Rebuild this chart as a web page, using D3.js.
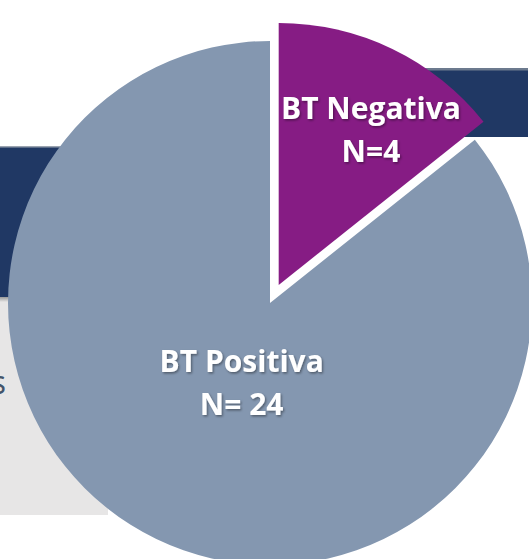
<!DOCTYPE html>
<html>
<head>
<meta charset="utf-8">
<script src="https://cdn.jsdelivr.net/npm/d3@7"></script>
<style>
    html, body { margin: 0; padding: 0; background: #fff; }
    svg { display: block; }
    .lbl { font-family: "Open Sans", Lato, sans-serif; font-weight: bold; fill: #fff; }
</style>
</head>
<body>
<svg id="chart" width="529" height="559"></svg>
<script>
// slice data
const categories = ['BT Negativa', 'BT Positiva'];
const counts = [4, 24];
const labelLines = [['BT Negativa', 'N=4'], ['BT Positiva', 'N= 24']];
const sliceColors = ['#861c84', '#8497b0'];

const width = 529, height = 559;
const cx = 270, cy = 303, radius = 262;
const explode = [20, 0];
const labelRadius = [185, 86];
const labelNudge = [[12, 13], [9, 4]];

(function init() {
    const svg = d3.select('#chart');
    drawBackground(svg);
    drawPie(svg);
})();

function drawBackground(svg) {
    const defs = svg.append('defs');
    const grad = defs.append('linearGradient').attr('id', 'barShadow')
        .attr('x1', 0).attr('x2', 0).attr('y1', 0).attr('y2', 1);
    grad.append('stop').attr('offset', '0%').attr('stop-color', '#8a8a8a');
    grad.append('stop').attr('offset', '100%').attr('stop-color', '#e7e6e6');

    // grey box on the left with the cut-off word
    svg.append('rect').attr('x', 0).attr('y', 297).attr('width', 108).attr('height', 218)
        .attr('fill', '#e7e6e6');
    svg.append('rect').attr('x', 0).attr('y', 296).attr('width', 108).attr('height', 6)
        .attr('fill', 'url(#barShadow)');
    svg.append('text').attr('x', 6).attr('y', 394).attr('text-anchor', 'end')
        .attr('font-family', '"Open Sans", sans-serif').attr('font-size', 32).attr('fill', '#44546a')
        .text('s');

    // navy bars
    svg.append('rect').attr('x', 0).attr('y', 147).attr('width', 200).attr('height', 150)
        .attr('fill', '#203864');
    svg.append('rect').attr('x', 0).attr('y', 146).attr('width', 200).attr('height', 1.5)
        .attr('fill', '#9aa3b0');
    svg.append('rect').attr('x', 400).attr('y', 70).attr('width', 128).attr('height', 67)
        .attr('fill', '#203864');
    svg.append('rect').attr('x', 400).attr('y', 68).attr('width', 128).attr('height', 2.5)
        .attr('fill', '#6c7a8e');
}

function drawPie(svg) {
    const data = categories.map((c, i) => ({ name: c, n: counts[i], i: i }));
    const pie = d3.pie().sort(null).value(d => d.n);
    const arcs = pie(data);
    const arc = d3.arc().innerRadius(0).outerRadius(radius);

    const defs = svg.select('defs');
    const f = defs.append('filter').attr('id', 'txtShadow')
        .attr('x', '-20%').attr('y', '-20%').attr('width', '140%').attr('height', '140%');
    f.append('feDropShadow').attr('dx', 1.2).attr('dy', 1.5).attr('stdDeviation', 1.1)
        .attr('flood-color', '#000').attr('flood-opacity', 0.4);

    const g = svg.append('g').attr('transform', `translate(${cx},${cy})`);

    const slices = g.selectAll('g.slice').data(arcs).join('g')
        .attr('class', 'slice')
        .attr('transform', d => {
            const mid = (d.startAngle + d.endAngle) / 2;
            const e = explode[d.data.i];
            return `translate(${e * Math.sin(mid)},${-e * Math.cos(mid)})`;
        });

    // big slice first, small slice on top
    slices.sort((a, b) => b.data.n - a.data.n);

    slices.append('path')
        .attr('d', arc)
        .attr('fill', d => sliceColors[d.data.i]);

    slices.each(function (d) {
        const r = labelRadius[d.data.i];
        const lArc = d3.arc().innerRadius(r).outerRadius(r);
        const [x, y] = lArc.centroid(d);
        const [nx, ny] = labelNudge[d.data.i];
        const t = d3.select(this).append('text')
            .attr('class', 'lbl')
            .attr('text-anchor', 'middle')
            .attr('font-size', 30)
            .attr('filter', 'url(#txtShadow)')
            .attr('transform', `translate(${x + nx},${y + ny})`);
        labelLines[d.data.i].forEach((line, k) => {
            t.append('tspan').attr('x', 0).attr('y', (k === 0 ? -12 : 31)).text(line);
        });
    });
}
</script>
</body>
</html>
